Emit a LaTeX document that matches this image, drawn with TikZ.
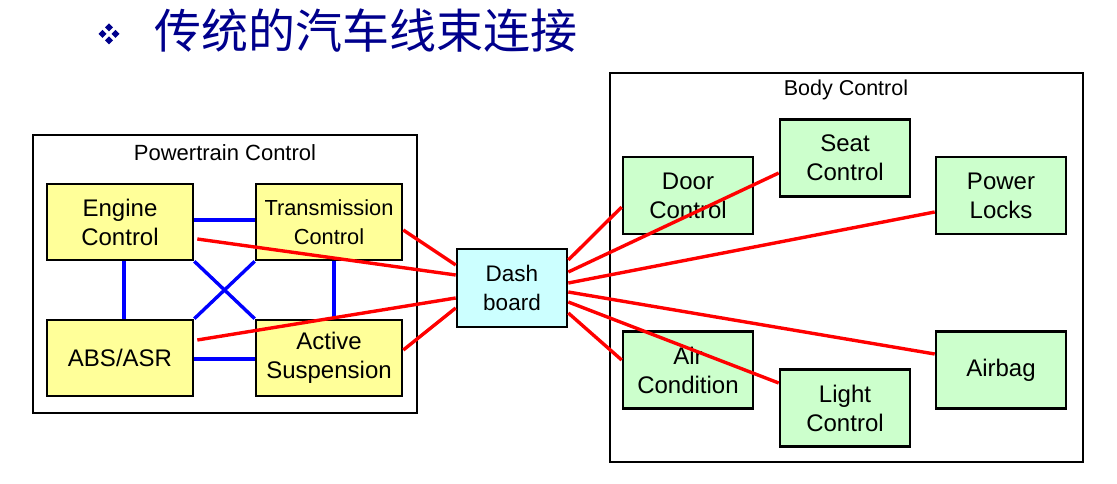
\documentclass[tikz,border=0pt]{standalone}
\usepackage{fontspec}
\setmainfont{Liberation Sans}
\newfontfamily\cjk{Noto Sans CJK SC}
\usetikzlibrary{calc}
\definecolor{boxyellow}{RGB}{255,255,153}
\definecolor{boxgreen}{RGB}{204,255,204}
\definecolor{boxcyan}{RGB}{204,255,255}
\definecolor{titleblue}{RGB}{0,0,140}
\begin{document}
\begin{tikzpicture}[x=1pt,y=-1pt,
  ecu/.style={draw=black,line width=2.6pt,minimum width=146pt,minimum height=76pt,inner sep=0pt,align=center,font=\fontsize{24}{29}\selectfont},
  ptbox/.style={ecu,fill=boxyellow},
  bdbox/.style={ecu,fill=boxgreen,minimum width=130pt,minimum height=77pt},
  grp/.style={draw=black,line width=2pt},
  grplabel/.style={font=\fontsize{21.5}{25}\selectfont},
  redwire/.style={draw=red,line width=3.4pt},
  bluewire/.style={draw=blue,line width=3.4pt}]
\useasboundingbox (0,0) rectangle (1117,484);
% title
\foreach \cx/\cy in {109/27.5,102.5/34,115.5/34,109/40.5}
  \fill[titleblue] (\cx,\cy-4) -- (\cx+4,\cy) -- (\cx,\cy+4) -- (\cx-4,\cy) -- cycle;
\node[anchor=west,inner sep=0pt,text=titleblue,font=\cjk\fontsize{47}{50}\selectfont] (title) at (154,31) {传统的汽车线束连接};
% group frames
\draw[grp] (33,135) rectangle (417,413);
\node[grplabel,font=\fontsize{22}{25}\selectfont] (ptlabel) at (225,153) {Powertrain Control};
\draw[grp] (610,73) rectangle (1083,462);
\node[grplabel] (bdlabel) at (846,90) {Body Control};
% powertrain ECUs
\node[ptbox] (eng) at (120,222) {Engine\\Control};
\node[ptbox,font=\fontsize{21.8}{29}\selectfont] (trans) at (329,222) {Transmission\\Control};
\node[ptbox] (abs) at (120,358) {ABS/ASR};
\node[ptbox] (act) at (329,358) {Active\\Suspension};
% dashboard
\node[ecu,fill=boxcyan,minimum width=110pt,minimum height=78pt,font=\fontsize{22.5}{29}\selectfont] (dash) at (512,288) {Dash\\board};
% body ECUs
\node[bdbox] (door) at (688,195.5) {Door\\Control};
\node[bdbox] (seat) at (845,158) {Seat\\Control};
\node[bdbox] (power) at (1001,195.5) {Power\\Locks};
\node[bdbox] (air) at (688,370) {Air\\Condition};
\node[bdbox] (light) at (845,408) {Light\\Control};
\node[bdbox] (airbag) at (1001,370) {Airbag};
% blue links
\draw[bluewire] ($(eng.east)+(0,-2)$) -- ($(trans.west)+(0,-2)$);
\draw[bluewire] ($(abs.east)+(0,1)$) -- ($(act.west)+(0,1)$);
\draw[bluewire] ($(eng.south)+(4,0)$) -- ($(abs.north)+(4,0)$);
\draw[bluewire] ($(trans.south)+(5,0)$) -- ($(act.north)+(5,0)$);
\draw[bluewire] (eng.south east) -- (act.north west);
\draw[bluewire] (trans.south west) -- (abs.north east);
% red links
\draw[redwire] ($(trans.east)+(0,8)$) -- ($(dash.west)+(0,-23)$);
\draw[redwire] ($(eng.east)+(3,17)$) -- ($(dash.west)+(0,-13)$);
\draw[redwire] ($(abs.east)+(3,-18)$) -- ($(dash.west)+(0,10)$);
\draw[redwire] ($(act.east)+(0,-8)$) -- ($(dash.west)+(0,20)$);
\draw[redwire] ($(dash.east)+(0,-28)$) -- ($(door.west)+(0,11.5)$);
\draw[redwire] ($(dash.east)+(0,-16)$) -- ($(seat.west)+(0,15)$);
\draw[redwire] ($(dash.east)+(0,-5)$) -- ($(power.west)+(0,16.5)$);
\draw[redwire] ($(dash.east)+(0,4)$) -- ($(airbag.west)+(0,-16)$);
\draw[redwire] ($(dash.east)+(0,14)$) -- ($(light.west)+(0,-25)$);
\draw[redwire] ($(dash.east)+(0,25)$) -- ($(air.west)+(0,-10)$);
\end{tikzpicture}
\end{document}
